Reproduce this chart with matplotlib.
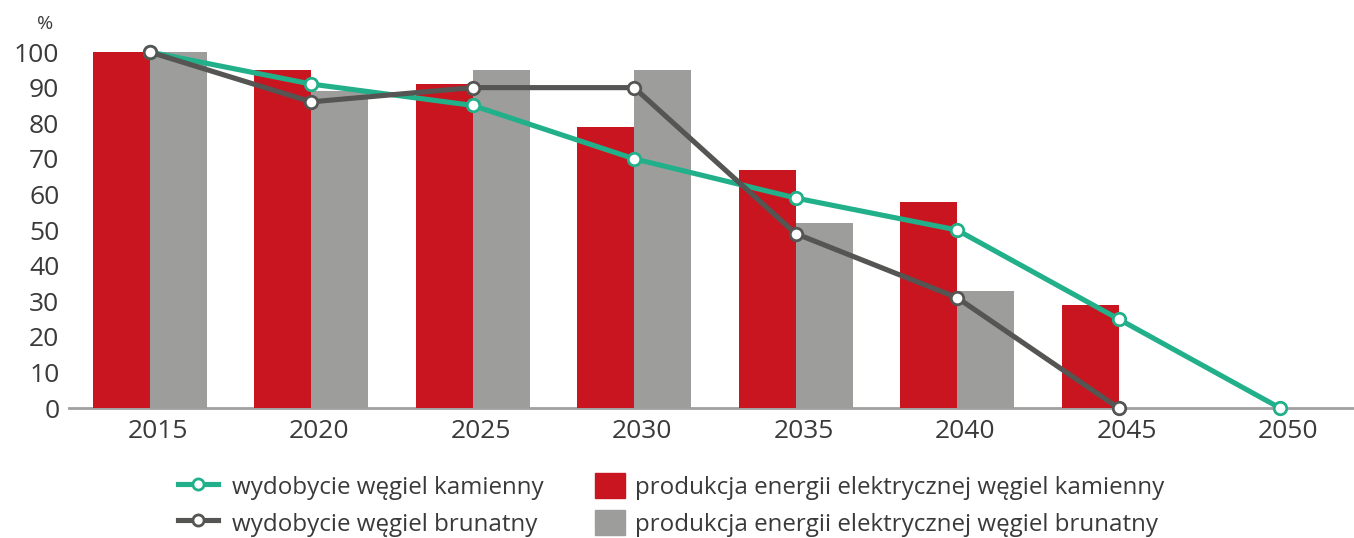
import numpy as np
import matplotlib.pyplot as plt
import matplotlib.transforms as mtransforms
from matplotlib.lines import Line2D
from matplotlib.patches import Patch

plt.rcParams['font.family'] = ['Open Sans', 'DejaVu Sans']

lata = ['2015', '2020', '2025', '2030', '2035', '2040', '2045', '2050']
# produkcja energii elektrycznej (słupki)
prod_kamienny = [100, 95, 91, 79, 67, 58, 29]
prod_brunatny = [100, 89, 95, 95, 52, 33]
# wydobycie (linie)
wyd_kamienny = [100, 91, 85, 70, 59, 50, 25, 0]
wyd_brunatny = [100, 86, 90, 90, 49, 31, 0]

kol_czerwony = '#c8151f'
kol_szary = '#9d9d9b'
kol_zielony = '#22b08a'
kol_ciemny = '#555553'
kol_tekst = '#3a3a3a'

fig = plt.figure(figsize=(13.54, 5.38), dpi=100)
ax = fig.add_axes([0.051, 0.2416, 0.948, 0.6617])

x = np.arange(len(lata))
szer = 0.353
ax.bar(x[:len(prod_kamienny)] - szer / 2, prod_kamienny, szer, color=kol_czerwony, zorder=2)
ax.bar(x[:len(prod_brunatny)] + szer / 2, prod_brunatny, szer, color=kol_szary, zorder=2)

styl = dict(linewidth=3.7, marker='o', markersize=9, markerfacecolor='white',
            markeredgewidth=2.0, clip_on=False)
ax.plot(x[:len(wyd_kamienny)], wyd_kamienny, color=kol_zielony, zorder=3, **styl)
ax.plot(x[:len(wyd_brunatny)], wyd_brunatny, color=kol_ciemny, zorder=4, **styl)

ax.set_xlim(-0.5, 7.45)
ax.set_ylim(0, 100)
ax.set_xticks(x)
ax.set_xticklabels(lata)
ax.set_yticks(np.arange(0, 101, 10))
ax.tick_params(axis='both', length=0, labelsize=19, colors=kol_tekst)
ax.tick_params(axis='x', pad=8)
ax.tick_params(axis='y', pad=7)

# etykiety lat lekko przesunięte w prawo
przesun = mtransforms.ScaledTranslation(0.08, 0, fig.dpi_scale_trans)
for etykieta in ax.get_xticklabels():
    etykieta.set_transform(etykieta.get_transform() + przesun)

for s in ['top', 'right', 'left']:
    ax.spines[s].set_visible(False)
ax.spines['bottom'].set_color('#a0a0a0')
ax.spines['bottom'].set_linewidth(2)
ax.spines['bottom'].set_zorder(1)

fig.text(0.033, 0.955, '%', fontsize=14, color=kol_tekst, ha='center', va='center')

# legenda w dwóch osobnych kolumnach: linie po lewej, słupki po prawej
wspolne = dict(frameon=False, loc='center left', fontsize=17.4, labelcolor=kol_tekst,
               borderpad=0, borderaxespad=0, handleheight=1.2, labelspacing=0.42)

uchwyty_linie = [
    Line2D([], [], color=kol_zielony, lw=3.7, marker='o', markersize=8,
           markerfacecolor='white', markeredgewidth=2.0),
    Line2D([], [], color=kol_ciemny, lw=3.7, marker='o', markersize=8,
           markerfacecolor='white', markeredgewidth=2.0),
]
leg1 = fig.legend(uchwyty_linie, ['wydobycie węgiel kamienny', 'wydobycie węgiel brunatny'],
                  bbox_to_anchor=(178 / 1354, 0.0613), handlelength=1.65,
                  handletextpad=0.58, **wspolne)

uchwyty_slupki = [Patch(color=kol_czerwony), Patch(color=kol_szary)]
leg2 = fig.legend(uchwyty_slupki,
                  ['produkcja energii elektrycznej węgiel kamienny',
                   'produkcja energii elektrycznej węgiel brunatny'],
                  bbox_to_anchor=(595 / 1354, 0.0613), handlelength=1.24,
                  handletextpad=0.41, **wspolne)

plt.savefig('out.png', dpi=100)
